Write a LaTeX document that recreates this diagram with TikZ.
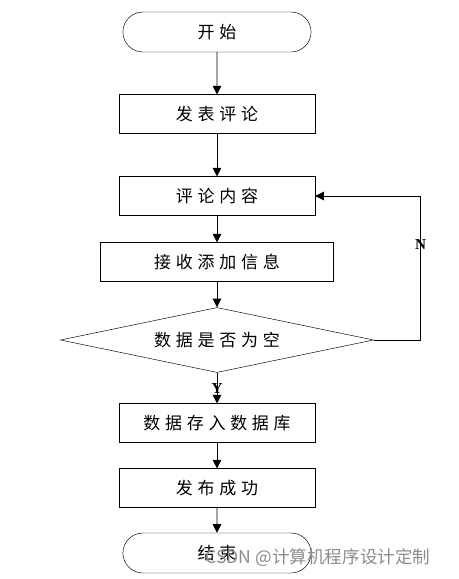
\documentclass[tikz,border=0pt]{standalone}
\usepackage{fontspec}
\newfontfamily\cjk[LetterSpace=28]{Noto Sans CJK SC}
\newfontfamily\markcjk{Noto Sans CJK SC}
\newfontfamily\ynfont{Liberation Serif}
\usetikzlibrary{shapes.geometric, shapes.misc, arrows.meta}
\tikzstyle{startstop} = [
    rounded rectangle,
    minimum width=5.88cm,
    minimum height=1.2cm,
    draw=black,
    font=\cjk\fontsize{14.5}{17}\selectfont
]
\tikzstyle{process} = [
    rectangle,
    minimum width=5.88cm,
    minimum height=1.16cm,
    draw=black,
    font=\cjk\fontsize{14.5}{17}\selectfont
]
\tikzstyle{wideprocess} = [
    process,
    minimum width=6.99cm
]
\tikzstyle{decision} = [
    diamond,
    aspect=4.8,
    inner sep=0pt,
    minimum width=9.39cm,
    minimum height=1.95cm,
    draw=black,
    font=\cjk\fontsize{14.5}{17}\selectfont
]
\tikzstyle{yn} = [
    font=\ynfont\bfseries\fontsize{13}{15}\selectfont,
    inner sep=0pt
]
\tikzstyle{arrow} = [line width=0.7pt,-{Triangle[length=2.6mm,width=2.6mm]}]

\begin{document}
\begin{tikzpicture}[node distance=2.46cm]
\useasboundingbox (0,0) rectangle (13.77,-17.37);

\node (start) [startstop] at (6.51,-0.96) {开始};

\node (publish) [process, below of=start]
{发表评论};

\node (content) [process, below of=publish]
{评论内容};

\node (receive) [wideprocess, below of=content, node distance=1.98cm]
{接收添加信息};

\node (check) [decision, below of=receive, node distance=2.34cm]
{数据是否为空};

\node (save) [process, below of=check, node distance=2.49cm]
{数据存入数据库};

\node (success) [process, below of=save, node distance=1.95cm]
{发布成功};

\node (stop) [startstop, below of=success, node distance=1.95cm]
{结束};

\draw [arrow] (start) -- (publish);
\draw [arrow] (publish) -- (content);
\draw [arrow] (content) -- (receive);
\draw [arrow] (receive) -- (check);
\draw [arrow] (check) -- node[yn] {Y} (save);
\draw [arrow] (save) -- (success);
\draw [arrow] (success) -- (stop);
\draw [arrow] (check.east) -- ++(1.41,0) |- node[yn, pos=0.33] {N} (content.east);

\node (watermark) [text=black!45, font=\markcjk\fontsize{15}{17}\selectfont] at (9.54,-16.74)
{CSDN @计算机程序设计定制};

\end{tikzpicture}
\end{document}
